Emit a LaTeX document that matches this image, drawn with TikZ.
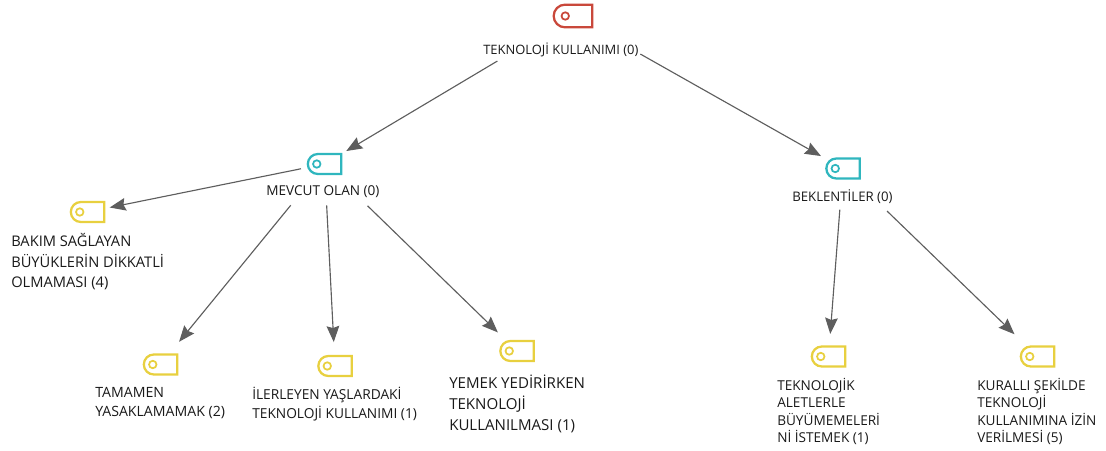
\documentclass[tikz,border=0pt]{standalone}
\usepackage{fontspec}
\setmainfont{Open Sans}
\usetikzlibrary{arrows.meta, shapes.misc}

\definecolor{tagred}{HTML}{C9483B}
\definecolor{tagteal}{HTML}{2FB6BE}
\definecolor{tagyellow}{HTML}{E8D03F}
\definecolor{linkgray}{HTML}{5E5E5E}

\tikzset{
  tagicon/.style={shape=rounded rectangle, rounded rectangle east arc=none, rounded rectangle arc length=180,
    draw=#1, line width=1.7pt, minimum width=25pt, minimum height=15pt, inner sep=0pt,
    path picture={\draw[#1, line width=1.3pt] ([xshift=-5.8pt]path picture bounding box.center) circle (2.8pt);}},
  itemlabel/.style 2 args={align=left, inner sep=0pt, text=black!90, font=\fontsize{#1}{#2}\selectfont},
  link/.style={draw=linkgray, line width=0.85pt, -{Stealth[length=12pt, width=9.5pt, inset=1.5pt]}}
}

\begin{document}
\begin{tikzpicture}[x=0.75pt, y=-0.75pt]
  \useasboundingbox (0,0) rectangle (1106,450);

  \node[tagicon=tagred, minimum width=29pt, minimum height=17pt] (root) at (573,16) {};
  \node[tagicon=tagteal] (mevcut) at (324.5,164) {};
  \node[tagicon=tagteal] (beklenti) at (843,168.5) {};
  \node[tagicon=tagyellow] (bakim) at (87.5,212) {};
  \node[tagicon=tagyellow] (tamamen) at (160.5,364.5) {};
  \node[tagicon=tagyellow] (ilerleyen) at (335,366) {};
  \node[tagicon=tagyellow] (yemek) at (517,351) {};
  \node[tagicon=tagyellow] (aletler) at (828.5,356.5) {};
  \node[tagicon=tagyellow] (kurallar) at (1037.5,356.5) {};

  \node[itemlabel={9.7}{14}, anchor=west] (rootText) at (483,50) {TEKNOLOJİ KULLANIMI (0)};
  \node[itemlabel={10.2}{14}, anchor=west] (mevcutText) at (266,192) {MEVCUT OLAN (0)};
  \node[itemlabel={9.9}{14}, anchor=west] (beklentiText) at (792,197) {BEKLENTİLER (0)};
  \node[itemlabel={11}{15.4}, anchor=west] (bakimText) at (11,262) {BAKIM SAĞLAYAN\\BÜYÜKLERİN DİKKATLİ\\OLMAMASI (4)};
  \node[itemlabel={10.6}{13.9}, anchor=west] (tamamenText) at (95,403) {TAMAMEN\\YASAKLAMAMAK (2)};
  \node[itemlabel={10.3}{14.2}, anchor=west] (ilerleyenText) at (252,404.5) {İLERLEYEN YAŞLARDAKİ\\TEKNOLOJİ KULLANIMI (1)};
  \node[itemlabel={11.3}{15.7}, anchor=west] (yemekText) at (449,404) {YEMEK YEDİRİRKEN\\TEKNOLOJİ\\KULLANILMASI (1)};
  \node[itemlabel={10.2}{13.2}, anchor=west] (aletlerText) at (777,411.5) {TEKNOLOJİK\\ALETLERLE\\BÜYÜMEMELERİ\\Nİ İSTEMEK (1)};
  \node[itemlabel={10.2}{13.2}, anchor=west] (kurallarText) at (977,411.5) {KURALLI ŞEKİLDE\\TEKNOLOJİ\\KULLANIMINA İZİN\\VERİLMESİ (5)};

  \draw[link, shorten <=66pt, shorten >=19pt] (root.center) -- (mevcut.center);
  \draw[link, shorten <=58pt, shorten >=19pt] (root.center) -- (beklenti.center);
  \draw[link, shorten <=18pt, shorten >=17pt] (mevcut.center) -- (bakim.center);
  \draw[link, shorten <=40pt, shorten >=22pt] (mevcut.center) -- (tamamen.center);
  \draw[link, shorten <=31pt, shorten >=18pt] (mevcut.center) -- (ilerleyen.center);
  \draw[link, shorten <=45pt, shorten >=20pt] (mevcut.center) -- (yemek.center);
  \draw[link, shorten <=31pt, shorten >=17pt] (beklenti.center) -- (aletler.center);
  \draw[link, shorten <=46pt, shorten >=24pt] (beklenti.center) -- (kurallar.center);
\end{tikzpicture}
\end{document}
